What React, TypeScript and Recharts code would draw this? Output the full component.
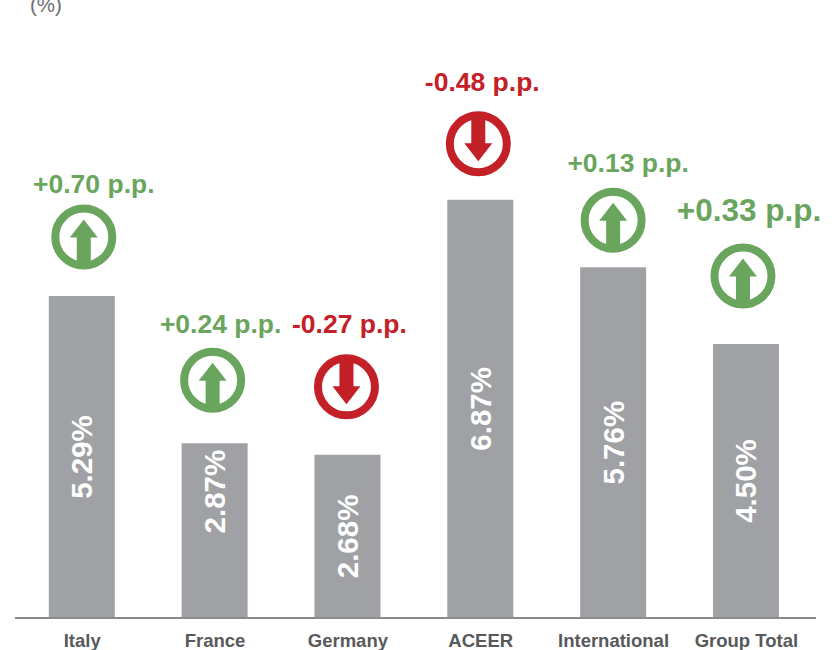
import React from "react";
import { BarChart, Bar, XAxis, YAxis, LabelList } from "recharts";

const regions = ["Italy", "France", "Germany", "ACEER", "International", "Group Total"];
const shares = [5.29, 2.87, 2.68, 6.87, 5.76, 4.5];
const changes = [0.7, 0.24, -0.27, -0.48, 0.13, 0.33];

// Where each callout sits relative to its bar: centre x and top y of the bar.
const iconOffsets = [[2, -59], [-2, -63], [-1, -68], [-2, -56], [0, -47], [-3, -68]];
const textOffsets = [[12, -103], [6, -110], [2, -122], [2, -109], [15, -95], [3, -123]];
const textSizes = [26.5, 26.5, 26.5, 26.5, 26.5, 31.5];
// The France figure sits above its bar's midpoint.
const shareShift = [0, -39, 0, 0, 0, 0];

const rows = regions.map((region, i) => ({ region, share: shares[i], index: i }));

const GREEN = "#6aa55e";
const RED = "#c32027";

const formatChange = (v: number) => `${v > 0 ? "+" : "-"}${Math.abs(v).toFixed(2)} p.p.`;

function ChangeCallout(props: any) {
  const { x, y, width, index } = props;
  const cx = x + width / 2;
  const change = changes[index];
  const up = change > 0;
  const color = up ? GREEN : RED;
  const [ix, iy] = iconOffsets[index];
  const [tx, ty] = textOffsets[index];
  const dir = up ? 1 : -1;
  const arrow = [
    [0, -17.5],
    [14, 0.5],
    [7, 0.5],
    [7, 27],
    [-7, 27],
    [-7, 0.5],
    [-14, 0.5],
  ]
    .map(([ax, ay]) => `${ax},${ay * dir}`)
    .join(" ");
  return (
    <g>
      <text
        x={cx + tx}
        y={y + ty}
        textAnchor="middle"
        fill={color}
        fontFamily="Liberation Sans, Arial, sans-serif"
        fontWeight={700}
        fontSize={textSizes[index]}
      >
        {formatChange(change)}
      </text>
      <g transform={`translate(${cx + ix},${y + iy})`}>
        <circle r={28.5} fill="#fff" stroke={color} strokeWidth={8} />
        <polygon points={arrow} fill={color} />
      </g>
    </g>
  );
}

function ShareLabel(props: any) {
  const { x, y, width, height, index } = props;
  const cx = x + width / 2;
  const cy = y + height / 2 + shareShift[index];
  return (
    <text
      x={cx}
      y={cy}
      transform={`rotate(-90 ${cx} ${cy})`}
      textAnchor="middle"
      dominantBaseline="central"
      fill="#fff"
      fontFamily="Liberation Sans, Arial, sans-serif"
      fontWeight={700}
      fontSize={29.5}
    >
      {shares[index].toFixed(2)}%
    </text>
  );
}

export default function App() {
  return (
    <div style={{ position: "absolute", left: 0, top: 0, width: 834, height: 650, background: "#fff" }}>
      <BarChart
        width={834}
        height={650}
        data={rows}
        margin={{ top: 8, right: 18, bottom: 0, left: 15 }}
        barCategoryGap={0}
      >
        <XAxis
          dataKey="region"
          interval={0}
          padding={{ left: 0.8, right: 3.2 }}
          height={32}
          tickLine={false}
          tickMargin={10}
          axisLine={{ stroke: "#8b8c8f", strokeWidth: 2 }}
          tick={{ fill: "#58595b", fontSize: 18.5, fontWeight: 700, fontFamily: "Liberation Sans, Arial, sans-serif" }}
        />
        <YAxis hide domain={[0, 10.02]} />
        <Bar dataKey="share" fill="#a0a1a5" barSize={66} isAnimationActive={false}>
          <LabelList dataKey="share" content={ShareLabel} />
          <LabelList dataKey="share" content={ChangeCallout} />
        </Bar>
        <text x={30} y={12} fill="#6d6e71" fontSize={20.5} fontFamily="Liberation Sans, Arial, sans-serif">
          (%)
        </text>
      </BarChart>
    </div>
  );
}
